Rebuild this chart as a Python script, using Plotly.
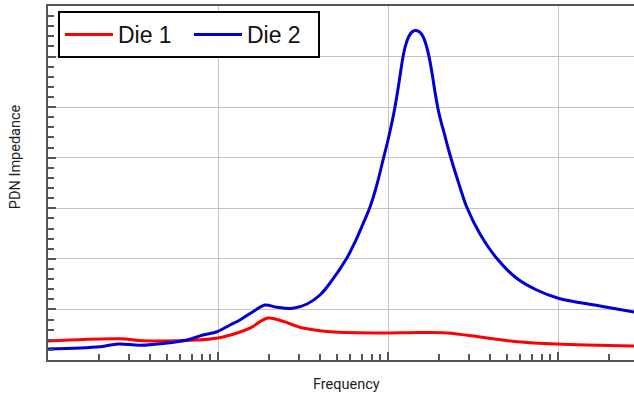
import plotly.graph_objects as go

# Frequency in MHz (log axis), impedance in arbitrary units
die2_freq = [1.00, 2.02, 2.58, 3.48, 5.22, 6.57, 8.16, 9.87, 11.77, 13.46, 16.07, 18.89,
             22.2, 27.6, 33.39, 39.81, 46.22, 57.17, 63.97, 70.79, 78.38, 85.60, 93.84,
             100.0, 105.6, 109.9, 114.5, 119.3, 123.4, 127.6, 132.9, 138.4, 144.1, 148.1,
             154.3, 160.7, 167.3, 174.3, 181.5, 189.0, 196.9, 205.0, 213.5, 231.6, 258.1,
             290.4, 347.7, 435.9, 571.0, 749.5, 1004, 1767, 2800]
die2_imp = [0.217, 0.263, 0.316, 0.291, 0.342, 0.395, 0.494, 0.559, 0.692, 0.791, 0.955, 1.087,
            1.042, 1.022, 1.107, 1.285, 1.548, 2.011, 2.333, 2.670, 3.026, 3.441, 3.975,
            4.350, 4.706, 5.003, 5.359, 5.754, 6.051, 6.249, 6.407, 6.486, 6.514, 6.512,
            6.480, 6.397, 6.239, 5.998, 5.675, 5.300, 4.963, 4.716, 4.499, 4.054, 3.540,
            3.026, 2.492, 2.011, 1.616, 1.384, 1.220, 1.068, 0.949]

die1_freq = [1.00, 2.65, 3.62, 7.52, 10.0, 12.94, 15.42, 19.68, 23.8, 31.6, 45.6, 100,
             134.7, 222.3, 347.7, 574, 986, 2800]
die1_imp = [0.375, 0.421, 0.381, 0.395, 0.435, 0.534, 0.630, 0.830, 0.771, 0.632, 0.559, 0.534,
            0.540, 0.534, 0.455, 0.362, 0.316, 0.277]

series_names = ["Die 1", "Die 2"]
x_title = "Frequency"
y_title = "PDN Impedance"

fig = go.Figure()
fig.add_trace(go.Scatter(x=die1_freq, y=die1_imp, name=series_names[0], mode="lines",
                         line=dict(color="#ff0000", width=3, shape="spline", smoothing=1.0)))
fig.add_trace(go.Scatter(x=die2_freq, y=die2_imp, name=series_names[1], mode="lines",
                         line=dict(color="#0000d4", width=3, shape="spline", smoothing=1.0)))

axis_col = "#555555"
fig.update_layout(
    width=634, height=396,
    margin=dict(l=48, r=0, t=6, b=36, autoexpand=False),
    paper_bgcolor="white", plot_bgcolor="white",
    font=dict(family="Roboto, Arial, sans-serif", color="#222222"),
    showlegend=True,
    legend=dict(orientation="h", x=0.017, y=0.986, xanchor="left", yanchor="top",
                bgcolor="white", bordercolor="black", borderwidth=2,
                font=dict(family="Liberation Sans, Arial, sans-serif", size=23, color="#111111"),
                itemwidth=48, entrywidth=66, entrywidthmode="pixels", tracegroupgap=0),
    xaxis=dict(type="log", range=[0, 3.447], dtick=1, showticklabels=False,
               showgrid=True, gridcolor="#c4c4c4", gridwidth=1,
               showline=True, linecolor=axis_col, linewidth=2, mirror=True,
               ticks="inside", ticklen=8, tickwidth=2, tickcolor=axis_col,
               minor=dict(ticks="inside", ticklen=6, tickwidth=2, tickcolor=axis_col,
                          dtick="D1", showgrid=False),
               zeroline=False),
    yaxis=dict(range=[0, 7], dtick=1, showticklabels=False,
               showgrid=True, gridcolor="#c4c4c4", gridwidth=1,
               showline=True, linecolor=axis_col, linewidth=2,
               ticks="inside", ticklen=8, tickwidth=2, tickcolor=axis_col,
               minor=dict(ticks="inside", ticklen=6, tickwidth=2, tickcolor=axis_col,
                          dtick=0.2, showgrid=False),
               zeroline=False),
    annotations=[
        dict(text=x_title, xref="paper", yref="paper", x=0.51, y=-0.0706,
             xanchor="center", yanchor="middle", showarrow=False,
             font=dict(size=14.5, color="#222222")),
        dict(text=y_title, xref="paper", yref="paper", x=-0.0563, y=0.573,
             xanchor="center", yanchor="middle", showarrow=False, textangle=-90,
             font=dict(size=14.5, color="#222222")),
    ],
)

fig.write_html("out.html", config={"displayModeBar": False},
               post_script="document.body.style.margin='0';document.body.style.padding='0';")
